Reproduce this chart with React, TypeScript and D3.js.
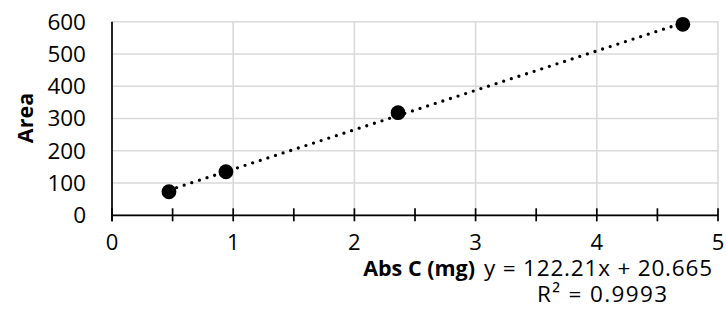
import React from "react";
import * as d3 from "d3";

const xValues = [0.47, 0.94, 2.36, 4.71];
const yValues = [73, 135, 318, 592];
const xTicks = [0, 1, 2, 3, 4, 5];
const xMinorTicks = [0, 0.5, 1, 1.5, 2, 2.5, 3, 3.5, 4, 4.5, 5];
const yTicks = [0, 100, 200, 300, 400, 500, 600];
const trendSlope = 122.21;
const trendIntercept = 20.665;
const equationLabel = "y = 122.21x + 20.665";
const rSquaredValue = "0.9993";
const xTitle = "Abs C (mg)";
const yTitle = "Area";

const W = 726;
const H = 333;
const left = 112;
const right = 718;
const top = 21.7;
const bottom = 215.3;
const font = "'Open Sans', 'Liberation Sans', sans-serif";

export default function App() {
  const x = d3.scaleLinear().domain([0, 5]).range([left, right]);
  const y = d3.scaleLinear().domain([0, 600]).range([bottom, top]);
  const points = xValues.map((v, i) => [v, yValues[i]] as [number, number]);
  const x0 = d3.min(xValues) as number;
  const x1 = d3.max(xValues) as number;
  const trend: [number, number][] = [
    [x0, trendSlope * x0 + trendIntercept],
    [x1, trendSlope * x1 + trendIntercept],
  ];
  const line = d3
    .line<[number, number]>()
    .x((d) => x(d[0]))
    .y((d) => y(d[1]));

  return (
    <svg
      width={W}
      height={H}
      style={{ position: "absolute", left: 0, top: 0, background: "#fff" }}
      fontFamily={font}
    >
      <rect width={W} height={H} fill="#fff" />
      {yTicks.map((t) => (
        <line key={"gy" + t} x1={left} x2={right} y1={y(t)} y2={y(t)} stroke="#d9d9d9" strokeWidth={1.6} />
      ))}
      {xTicks.filter((t) => t > 0).map((t) => (
        <line key={"gx" + t} x1={x(t)} x2={x(t)} y1={top} y2={bottom} stroke="#d9d9d9" strokeWidth={1.6} />
      ))}
      <line x1={left} x2={left} y1={top} y2={bottom + 6} stroke="#000" strokeWidth={1.7} />
      <line x1={left} x2={right} y1={bottom} y2={bottom} stroke="#000" strokeWidth={1.7} />
      {xMinorTicks.map((t) => (
        <line key={"tx" + t} x1={x(t)} x2={x(t)} y1={bottom - 7} y2={bottom + 6} stroke="#000" strokeWidth={1.7} />
      ))}
      {yTicks.map((t) => (
        <text key={"ly" + t} x={86} y={y(t) + 7.8} textAnchor="end" fontSize={22.5} fill="#000">
          {t}
        </text>
      ))}
      {xTicks.map((t) => (
        <text key={"lx" + t} x={x(t)} y={249.5} textAnchor="middle" fontSize={22} fill="#000">
          {t}
        </text>
      ))}
      <text
        transform={`translate(33,118) rotate(-90)`}
        textAnchor="middle"
        fontSize={21.5}
        fontWeight="bold"
        fill="#000"
      >
        {yTitle}
      </text>
      <text x={475} y={275.5} textAnchor="end" fontSize={21.5} fontWeight="bold" fill="#000">
        {xTitle}
      </text>
      <path
        d={line(trend) || ""}
        fill="none"
        stroke="#000"
        strokeWidth={3.3}
        strokeDasharray="0 8"
        strokeLinecap="round"
      />
      {points.map((p, i) => (
        <circle key={"p" + i} cx={x(p[0])} cy={y(p[1])} r={7.4} fill="#000" />
      ))}
      <text x={598} y={275.5} textAnchor="middle" fontSize={22.5} fill="#000" textLength={228} lengthAdjust="spacing">
        {equationLabel}
      </text>
      <text x={602} y={302} textAnchor="middle" fontSize={22.5} fill="#000" textLength={130} lengthAdjust="spacing">
        R² = {rSquaredValue}
      </text>
    </svg>
  );
}
